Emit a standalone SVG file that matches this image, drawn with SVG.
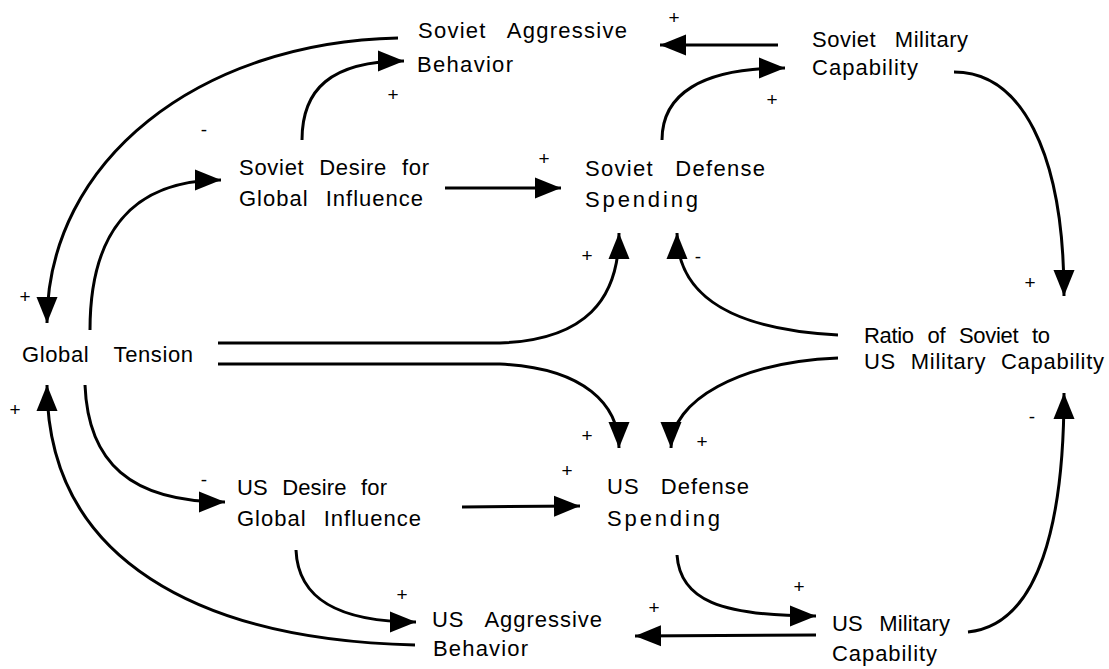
<svg xmlns="http://www.w3.org/2000/svg" width="1109" height="669" viewBox="0 0 1109 669">
<defs>
<marker id="ah" markerUnits="userSpaceOnUse" markerWidth="28" markerHeight="22" refX="26" refY="11" orient="auto" viewBox="0 0 28 22">
<path d="M0,0.5 L26,11 L0,21.5 Z" fill="#000"/>
</marker>
</defs>
<style>
.n{font-family:"Liberation Sans",Arial,sans-serif;font-size:22px;fill:#000}
.s{font-family:"Liberation Sans",Arial,sans-serif;font-size:19px;fill:#000;text-anchor:middle}
.c{fill:none;stroke:#000;stroke-width:3}
.a{marker-end:url(#ah)}
</style>
<rect width="1109" height="669" fill="#fff"/>
<g id="connectors">
<path class="c a" d="M778,45 L660,45"/>
<path class="c a" d="M662,140 C662,95 700,68 785,68"/>
<path class="c a" d="M954,72 C1020,72 1064,150 1064,296"/>
<path class="c a" d="M398,38 C200,42 47,160 47,323"/>
<path class="c a" d="M90,330 C90,235 130,180 221,180"/>
<path class="c a" d="M302,140 C302,90 330,61 404,61"/>
<path class="c a" d="M445,188 L561,188"/>
<path class="c a" d="M218,343 L500,343 C585,340 619,300 619,233"/>
<path class="c a" d="M218,364 L500,364 C585,368 619,405 619,448"/>
<path class="c a" d="M838,335 C740,330 677,300 677,233"/>
<path class="c a" d="M838,358 C740,362 671,400 671,448"/>
<path class="c a" d="M968,632 C1040,625 1064,520 1064,393"/>
<path class="c a" d="M816,635 L635,636"/>
<path class="c a" d="M677,555 C680,600 720,616 816,616"/>
<path class="c a" d="M462,507 L580,506"/>
<path class="c a" d="M296,550 C298,600 340,622 416,622"/>
<path class="c a" d="M85,385 C88,462 130,502 225,502"/>
<path class="c a" d="M415,645 C200,640 47,560 47,385"/>
</g>
<g id="signs">
<text class="s" x="674" y="24">+</text>
<text class="s" x="772" y="106">+</text>
<text class="s" x="393" y="101">+</text>
<text class="s" x="544" y="165">+</text>
<text class="s" x="1030" y="289">+</text>
<text class="s" x="25" y="303">+</text>
<text class="s" x="15" y="416">+</text>
<text class="s" x="587" y="262">+</text>
<text class="s" x="587" y="442">+</text>
<text class="s" x="702" y="448">+</text>
<text class="s" x="567" y="477">+</text>
<text class="s" x="402" y="601">+</text>
<text class="s" x="799" y="593">+</text>
<text class="s" x="654" y="614">+</text>
<text class="s" x="204" y="136">-</text>
<text class="s" x="698" y="263">-</text>
<text class="s" x="1032" y="423">-</text>
<text class="s" x="204" y="486">-</text>
</g>
<g id="soviet-aggressive-behavior">
<text class="n" x="418" y="38" textLength="209" lengthAdjust="spacing" word-spacing="14">Soviet Aggressive</text>
<text class="n" x="417" y="72" textLength="96" lengthAdjust="spacing">Behavior</text>
</g>
<g id="soviet-military-capability">
<text class="n" x="812" y="47" textLength="156" lengthAdjust="spacing" word-spacing="12">Soviet Military</text>
<text class="n" x="812" y="75" textLength="106" lengthAdjust="spacing">Capability</text>
</g>
<g id="soviet-desire">
<text class="n" x="239" y="175" textLength="190" lengthAdjust="spacing" word-spacing="8">Soviet Desire for</text>
<text class="n" x="239" y="206" textLength="184" lengthAdjust="spacing" word-spacing="10">Global Influence</text>
</g>
<g id="soviet-defense-spending">
<text class="n" x="585" y="176" textLength="180" lengthAdjust="spacing" word-spacing="14">Soviet Defense</text>
<text class="n" x="585" y="207" textLength="113" lengthAdjust="spacing">Spending</text>
</g>
<g id="global-tension">
<text class="n" x="22" y="362" textLength="171" lengthAdjust="spacing" word-spacing="18">Global Tension</text>
</g>
<g id="ratio">
<text class="n" x="864" y="343" textLength="186" lengthAdjust="spacing" word-spacing="8">Ratio of Soviet to</text>
<text class="n" x="864" y="369" textLength="240" lengthAdjust="spacing" word-spacing="8">US Military Capability</text>
</g>
<g id="us-desire">
<text class="n" x="237" y="495" textLength="150" lengthAdjust="spacing" word-spacing="8">US Desire for</text>
<text class="n" x="237" y="526" textLength="184" lengthAdjust="spacing" word-spacing="10">Global Influence</text>
</g>
<g id="us-defense-spending">
<text class="n" x="607" y="494" textLength="142" lengthAdjust="spacing" word-spacing="14">US Defense</text>
<text class="n" x="607" y="526" textLength="113" lengthAdjust="spacing">Spending</text>
</g>
<g id="us-aggressive-behavior">
<text class="n" x="432" y="627" textLength="170" lengthAdjust="spacing" word-spacing="14">US Aggressive</text>
<text class="n" x="433" y="656" textLength="95" lengthAdjust="spacing">Behavior</text>
</g>
<g id="us-military-capability">
<text class="n" x="832" y="631" textLength="118" lengthAdjust="spacing" word-spacing="10">US Military</text>
<text class="n" x="832" y="661" textLength="105" lengthAdjust="spacing">Capability</text>
</g>
</svg>
